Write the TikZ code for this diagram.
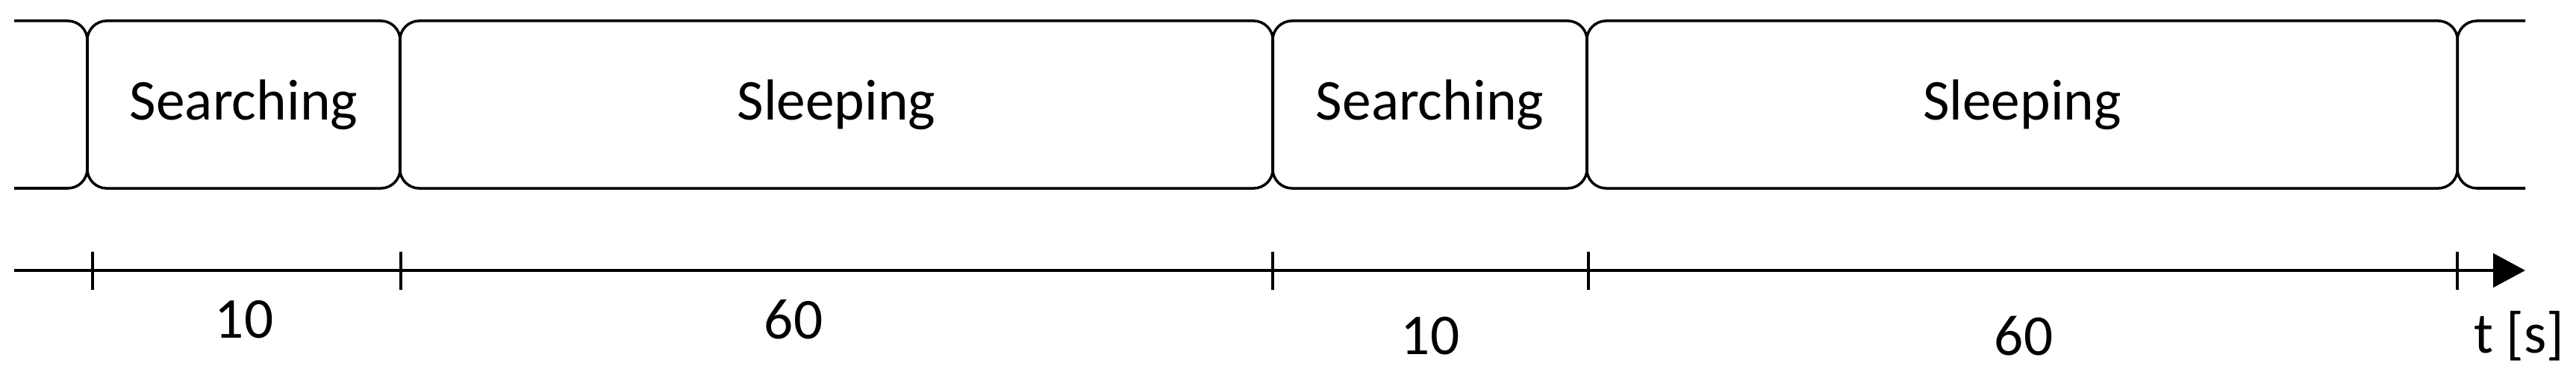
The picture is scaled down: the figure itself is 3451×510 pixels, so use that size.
\documentclass[tikz,border=0pt]{standalone}
\usepackage{fontspec}
\setmainfont{Carlito}
\usetikzlibrary{arrows.meta}
\begin{document}
\begin{tikzpicture}[x=0.01cm,y=-0.01cm,
  phase/.style={draw,line width=1pt,rounded corners=0.26cm,inner sep=0pt,minimum height=2.24cm},
  lbl/.style={font=\fontsize{22}{26}\selectfont,inner sep=0pt},
  tick/.style={line width=1.3pt}]
\useasboundingbox (0,0) rectangle (3451,510);
\draw[line width=1pt,rounded corners=0.26cm] (19,28) -- (117,28) -- (117,252) -- (19,252);
\draw[line width=1pt,rounded corners=0.26cm] (3383,28) -- (3292,28) -- (3292,252) -- (3383,252);
\node[phase,minimum width=4.19cm] (s1) at (326.5,140) {};
\node[phase,minimum width=11.69cm] (p1) at (1120.5,140) {};
\node[phase,minimum width=4.21cm] (s2) at (1915.5,140) {};
\node[phase,minimum width=11.66cm] (p2) at (2709,140) {};
\node[lbl] (ts1) at (s1.center) {Searching};
\node[lbl] (tp1) at (p1.center) {Sleeping};
\node[lbl] (ts2) at (s2.center) {Searching};
\node[lbl] (tp2) at (p2.center) {Sleeping};
\coordinate (a0) at (19,362);
\coordinate (a1) at (3383,362);
\draw[line width=1.3pt,-{Triangle[length=0.43cm,width=0.45cm]}] (a0) -- (a1);
\foreach \x/\n in {124/k1,537/k2,1705/k3,2128/k4,3292/k5}{
  \coordinate (\n t) at (\x,337); \coordinate (\n b) at (\x,388);
  \draw[tick] (\n t) -- (\n b);}
\node[lbl] (d1) at (327,428) {10};
\node[lbl] (d2) at (1063,428) {60};
\node[lbl] (d3) at (1916,450) {10};
\node[lbl] (d4) at (2711,450) {60};
\node[lbl] (tu) at (3375,450) {t [s]};
\end{tikzpicture}
\end{document}
